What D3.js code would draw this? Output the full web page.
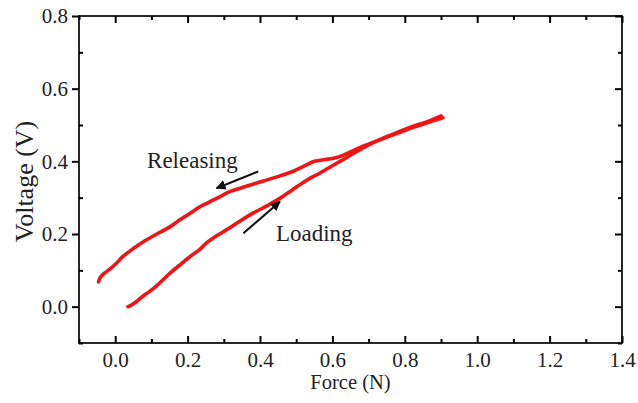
<!DOCTYPE html>
<html>
<head>
<meta charset="utf-8">
<script src="https://cdn.jsdelivr.net/npm/d3@7"></script>
<style>
  body { margin: 0; background: #fff; }
</style>
</head>
<body>
<div id="chart"></div>
<script>
// loading branch (force N, voltage V)
const loadF = [0.035, 0.041, 0.05, 0.06, 0.078, 0.095, 0.115, 0.13, 0.151, 0.18, 0.207, 0.234, 0.253, 0.28, 0.308, 0.345, 0.382, 0.42, 0.455, 0.49, 0.529, 0.566, 0.6, 0.63, 0.66, 0.69, 0.72, 0.76, 0.8, 0.84, 0.87, 0.9];
const loadV = [0.0, 0.002, 0.008, 0.015, 0.03, 0.042, 0.058, 0.072, 0.092, 0.116, 0.138, 0.158, 0.176, 0.195, 0.212, 0.236, 0.258, 0.278, 0.298, 0.322, 0.348, 0.368, 0.388, 0.405, 0.423, 0.44, 0.455, 0.472, 0.488, 0.502, 0.512, 0.525];
// releasing branch
const relF = [0.905, 0.88, 0.85, 0.8, 0.76, 0.72, 0.68, 0.65, 0.62, 0.6, 0.58, 0.55, 0.52, 0.49, 0.455, 0.42, 0.38, 0.345, 0.31, 0.29, 0.26, 0.234, 0.207, 0.18, 0.15, 0.115, 0.08, 0.05, 0.02, 0.004, -0.014, -0.03, -0.038, -0.044, -0.046];
const relV = [0.52, 0.512, 0.502, 0.485, 0.47, 0.455, 0.44, 0.426, 0.413, 0.408, 0.405, 0.4, 0.386, 0.372, 0.36, 0.349, 0.337, 0.326, 0.314, 0.303, 0.288, 0.275, 0.257, 0.24, 0.219, 0.2, 0.18, 0.16, 0.137, 0.12, 0.104, 0.092, 0.085, 0.075, 0.068];

const xTicks = [0.0, 0.2, 0.4, 0.6, 0.8, 1.0, 1.2, 1.4];
const yTicks = [0.0, 0.2, 0.4, 0.6, 0.8];
const xMinor = [-0.1, 0.1, 0.3, 0.5, 0.7, 0.9, 1.1, 1.3];
const yMinor = [-0.1, 0.1, 0.3, 0.5, 0.7];

// annotations: [label, tailF, tailV, tipF, tipV]
const arrows = [
  ["Releasing", 0.395, 0.372, 0.28, 0.326],
  ["Loading", 0.354, 0.202, 0.455, 0.289]
];
const labelPos = [[0.088, 0.381], [0.444, 0.18]];

const width = 638, height = 403;
const margin = { left: 79, right: 16, top: 16, bottom: 60 };
const serif = '"Liberation Serif", "Times New Roman", serif';

const svg = d3.select("#chart").append("svg")
  .attr("width", width)
  .attr("height", height);

const defs = svg.append("defs");
defs.append("marker")
  .attr("id", "head")
  .attr("viewBox", "0 0 10 10")
  .attr("refX", 9).attr("refY", 5)
  .attr("markerWidth", 5).attr("markerHeight", 5)
  .attr("markerUnits", "strokeWidth")
  .attr("orient", "auto")
  .append("path")
  .attr("d", "M0,0 L10,5 L0,10 z")
  .attr("fill", "#111");

let x = d3.scaleLinear().domain([-0.1, 1.4]).range([margin.left, width - margin.right]);
let y = d3.scaleLinear().domain([-0.1, 0.8]).range([height - margin.bottom, margin.top]);

const x0 = x.range()[0], x1 = x.range()[1];
const y0 = y.range()[0], y1 = y.range()[1];

//------------------------------------------------------------- frame (drawn first, ticks on top)
svg.append("rect")
  .attr("x", x0).attr("y", y1)
  .attr("width", x1 - x0).attr("height", y0 - y1)
  .attr("fill", "none")
  .attr("stroke", "#111")
  .attr("stroke-width", 1.8);

//------------------------------------------------------------- axes
const fmt = d3.format(".1f");

function drawAxis(axis, transform, labels) {
  const g = svg.append("g").attr("transform", transform).call(axis);
  g.select(".domain").remove();
  g.selectAll(".tick line").attr("stroke", "#000").attr("stroke-width", 2);
  g.selectAll(".tick text")
    .style("font-size", "21px")
    .style("font-family", serif)
    .attr("fill", "#222");
  if (!labels) g.selectAll(".tick text").remove();
  return g;
}

// bottom
drawAxis(d3.axisBottom(x).tickValues(xTicks).tickFormat(fmt).tickSize(-7).tickPadding(9), "translate(0," + y0 + ")", true);
drawAxis(d3.axisBottom(x).tickValues(xMinor).tickSize(-4), "translate(0," + y0 + ")", false);
// top
drawAxis(d3.axisTop(x).tickValues(xTicks).tickSize(-7), "translate(0," + y1 + ")", false);
drawAxis(d3.axisTop(x).tickValues(xMinor).tickSize(-4), "translate(0," + y1 + ")", false);
// left (majors outward, minors inward)
let gl = drawAxis(d3.axisLeft(y).tickValues(yTicks).tickFormat(fmt).tickSize(7).tickPadding(4), "translate(" + x0 + ",0)", true);
gl.selectAll("text").attr("dy", "0.33em");
drawAxis(d3.axisLeft(y).tickValues(yMinor).tickSize(-4), "translate(" + x0 + ",0)", false);
// right
drawAxis(d3.axisRight(y).tickValues(yTicks).tickSize(-7), "translate(" + x1 + ",0)", false);
drawAxis(d3.axisRight(y).tickValues(yMinor).tickSize(-4), "translate(" + x1 + ",0)", false);

//------------------------------------------------------------- curves
const line = d3.line()
  .x(d => x(d[0]))
  .y(d => y(d[1]))
  .curve(d3.curveCatmullRom.alpha(0.5));

[[loadF, loadV], [relF, relV]].forEach(function(s) {
  svg.append("path")
    .datum(s[0].map((f, i) => [f, s[1][i]]))
    .attr("d", line)
    .attr("fill", "none")
    .attr("stroke", "#f01414")
    .attr("stroke-width", 3.6)
    .attr("stroke-linejoin", "round")
    .attr("stroke-linecap", "round");
});

//------------------------------------------------------------- arrows + labels
arrows.forEach(function(a, i) {
  svg.append("line")
    .attr("x1", x(a[1])).attr("y1", y(a[2]))
    .attr("x2", x(a[3])).attr("y2", y(a[4]))
    .attr("stroke", "#111")
    .attr("stroke-width", 2)
    .attr("marker-end", "url(#head)");
  svg.append("text")
    .attr("x", x(labelPos[i][0]))
    .attr("y", y(labelPos[i][1]))
    .attr("fill", "#222")
    .style("font-family", serif)
    .style("font-size", "23px")
    .text(a[0]);
});

//------------------------------------------------------------- titles
svg.append("text")
  .attr("x", (x0 + x1) / 2)
  .attr("y", 389)
  .attr("text-anchor", "middle")
  .attr("fill", "#222")
  .style("font-family", serif)
  .style("font-size", "20.5px")
  .text("Force (N)");

svg.append("text")
  .attr("transform", "translate(33," + ((y0 + y1) / 2 + 2) + ") rotate(-90)")
  .attr("text-anchor", "middle")
  .attr("fill", "#222")
  .style("font-family", serif)
  .style("font-size", "26px")
  .text("Voltage (V)");
</script>
</body>
</html>
